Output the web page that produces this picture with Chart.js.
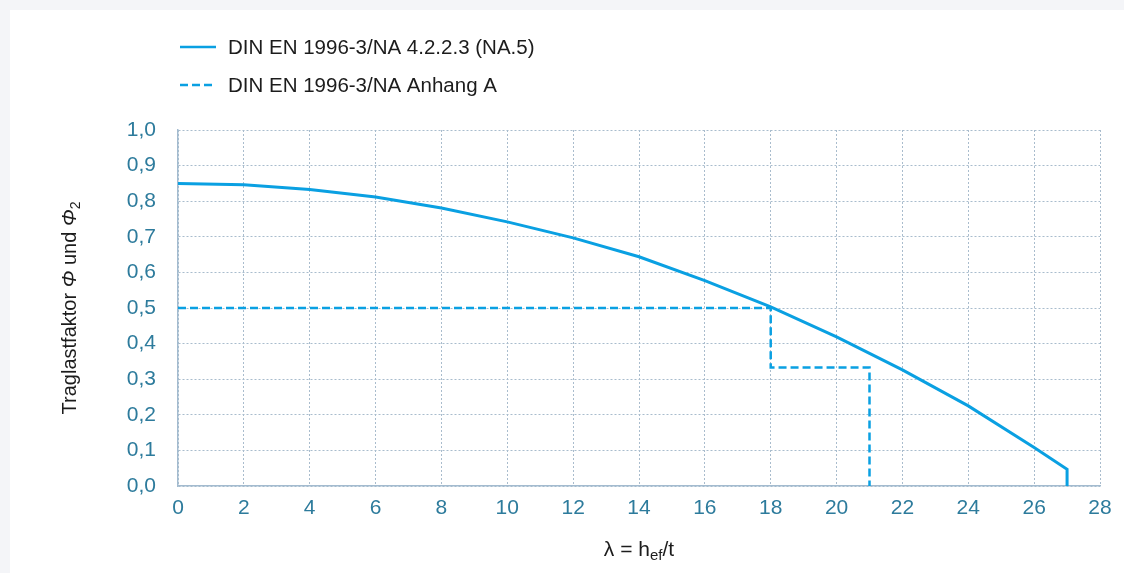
<!DOCTYPE html>
<html>
<head>
<meta charset="utf-8">
<script src="https://cdn.jsdelivr.net/npm/chart.js@4"></script>
<style>
  html, body { margin: 0; padding: 0; background: #f4f5f8; }
  #card { position: absolute; left: 10px; top: 10px; width: 1114px; height: 563px; background: #fff; }
</style>
</head>
<body>
<div id="card"><canvas id="chart" width="1114" height="563"></canvas></div>
<script>
// Schlankheit lambda und Traglastfaktor Phi
const lambdaNA5 = [0, 2, 4, 6, 8, 10, 12, 14, 16, 18, 20, 22, 24, 26, 27, 27];
const phiNA5 = [0.850, 0.846, 0.833, 0.812, 0.781, 0.742, 0.697, 0.644, 0.577, 0.503, 0.419, 0.326, 0.225, 0.108, 0.047, 0];

const lambdaAnhangA = [0, 18, 18, 21, 21];
const phiAnhangA = [0.5, 0.5, 0.333, 0.333, 0];

const seriesLabels = ['DIN EN 1996-3/NA 4.2.2.3 (NA.5)', 'DIN EN 1996-3/NA Anhang A'];

const blue = '#0aa0e2';
const tickColor = '#2d7b9c';
const gridColor = '#a9bccd';
const fontFamily = 'Liberation Sans';

const toPoints = (xs, ys) => xs.map((x, i) => ({ x: x, y: ys[i] }));

// Legende oben links
const legendPlugin = {
    id: 'customLegend',
    afterDraw(chart) {
        const ctx = chart.ctx;
        ctx.save();
        ctx.font = '20.5px "' + fontFamily + '"';
        ctx.fillStyle = '#1c1c1c';
        ctx.textBaseline = 'middle';
        chart.data.datasets.forEach((ds, i) => {
            const y = 37 + i * 38;
            ctx.strokeStyle = ds.borderColor;
            ctx.lineWidth = 2.5;
            ctx.setLineDash(ds.borderDash || []);
            ctx.beginPath();
            ctx.moveTo(170, y);
            ctx.lineTo(206, y);
            ctx.stroke();
            ctx.fillText(ds.label, 218, y + 1);
        });
        ctx.restore();
    }
};

// Achsentitel mit Index
function drawParts(ctx, parts, cx, cy, size) {
    const fonts = {
        n: size + 'px "' + fontFamily + '"',
        i: 'italic ' + size + 'px "' + fontFamily + '"',
        s: Math.round(size * 0.7) + 'px "' + fontFamily + '"'
    };
    let total = 0;
    parts.forEach(p => { ctx.font = fonts[p[1]]; total += ctx.measureText(p[0]).width; });
    let x = cx - total / 2;
    parts.forEach(p => {
        ctx.font = fonts[p[1]];
        ctx.fillText(p[0], x, p[1] === 's' ? cy + 6 : cy);
        x += ctx.measureText(p[0]).width;
    });
}

const titlePlugin = {
    id: 'axisTitles',
    afterDraw(chart) {
        const ctx = chart.ctx;
        const area = chart.chartArea;
        ctx.save();
        ctx.fillStyle = '#1c1c1c';
        ctx.textBaseline = 'middle';
        drawParts(ctx, [['λ = h', 'n'], ['ef', 's'], ['/t', 'n']], (area.left + area.right) / 2, 540, 21);
        ctx.translate(60, (area.top + area.bottom) / 2);
        ctx.rotate(-Math.PI / 2);
        drawParts(ctx, [['Traglastfaktor ', 'n'], ['Φ', 'i'], [' und ', 'n'], ['Φ', 'i'], ['2', 's']], 0, 0, 20);
        ctx.restore();
    }
};

const ctx = document.getElementById('chart').getContext('2d');

new Chart(ctx, {
    type: 'line',
    data: {
        datasets: [{
            label: seriesLabels[0],
            data: toPoints(lambdaNA5, phiNA5),
            borderColor: blue,
            borderWidth: 3,
            pointRadius: 0,
            tension: 0
        }, {
            label: seriesLabels[1],
            data: toPoints(lambdaAnhangA, phiAnhangA),
            borderColor: blue,
            borderWidth: 2.5,
            borderDash: [8, 4],
            pointRadius: 0,
            tension: 0
        }]
    },
    options: {
        responsive: false,
        animation: false,
        layout: { padding: { top: 120, right: 24, left: 0, bottom: 0 } },
        plugins: {
            legend: { display: false },
            tooltip: { enabled: false }
        },
        scales: {
            x: {
                type: 'linear',
                min: 0,
                max: 28,
                afterFit: scale => { scale.height = 87; },
                ticks: {
                    stepSize: 2,
                    color: tickColor,
                    font: { family: fontFamily, size: 21 },
                    padding: 10
                },
                grid: { color: gridColor, lineWidth: 1, drawTicks: false },
                border: { color: '#a3bbcf', width: 1.5, dash: [2, 2] }
            },
            y: {
                min: 0,
                max: 1,
                afterFit: scale => { scale.width = 168; },
                ticks: {
                    stepSize: 0.1,
                    color: tickColor,
                    font: { family: fontFamily, size: 21 },
                    padding: 22,
                    callback: v => v.toFixed(1).replace('.', ',')
                },
                grid: { color: gridColor, lineWidth: 1, drawTicks: false },
                border: { color: '#a3bbcf', width: 1.5, dash: [2, 2] }
            }
        }
    },
    plugins: [legendPlugin, titlePlugin]
});
</script>
</body>
</html>
